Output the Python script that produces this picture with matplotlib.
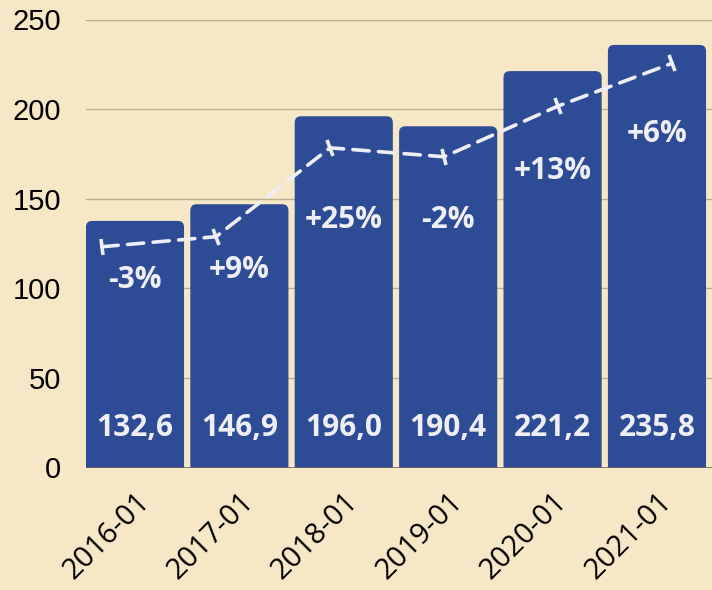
import numpy as np
import matplotlib
matplotlib.use("Agg")
import matplotlib.pyplot as plt
from matplotlib.patches import FancyBboxPatch
from matplotlib.markers import MarkerStyle
from matplotlib.transforms import Affine2D, ScaledTranslation

categories = ["2016-01", "2017-01", "2018-01", "2019-01", "2020-01", "2021-01"]
bar_values = [137.6, 146.9, 196.0, 190.4, 221.2, 235.8]
value_labels = ["132,6", "146,9", "196,0", "190,4", "221,2", "235,8"]
trend_values = [123.2, 128.8, 178.4, 173.4, 201.7, 225.6]
pct_labels = ["-3%", "+9%", "+25%", "-2%", "+13%", "+6%"]
pct_label_y = [104.6, 110.2, 138.1, 138.1, 165.5, 186.1]
yticks = [0, 50, 100, 150, 200, 250]

BG = "#f6e7c6"
BAR = "#2e4c96"
WHITE = "#eeeef4"
GRID = "#bdae91"

fig = plt.figure(figsize=(7.12, 5.90), dpi=100, facecolor=BG)
ax = fig.add_axes([86/712, (590-467.5)/590, 1-86/712, (467.5-19.5)/590])
ax.set_facecolor(BG)

x = np.arange(len(categories))
ax.set_xlim(-0.469, 5.527)
ax.set_ylim(0, 250)

ax.set_yticks(yticks)
ax.yaxis.grid(True, color=GRID, linewidth=1.0, zorder=0)
ax.set_axisbelow(True)

width = 0.94
for xi, v in zip(x, bar_values):
    ax.add_patch(FancyBboxPatch((xi - width/2, -10), width, v + 10,
                                boxstyle="round,pad=0,rounding_size=0.06",
                                mutation_aspect=250/448*104.4,
                                facecolor=BAR, edgecolor="none", zorder=2,
                                clip_on=True))

ax.axhline(0, color="#6f6a60", linewidth=1.2, zorder=3)

for xi, lbl in zip(x, value_labels):
    ax.text(xi, 22, lbl, ha="center", va="center", color=WHITE,
            fontsize=21.5, fontweight="bold", family="Open Sans", zorder=5)

for xi, lbl, yy in zip(x, pct_labels, pct_label_y):
    ax.text(xi, yy, lbl, ha="center", va="center", color=WHITE,
            fontsize=21.5, fontweight="bold", family="Open Sans", zorder=5)

# trend line
x_line = np.linspace(-0.316, 5.145, len(trend_values))
ax.plot(x_line, trend_values, color=WHITE, linewidth=2.6,
        dashes=(4.5, 2.6), dash_capstyle="round", zorder=4)
fig.canvas.draw()
pts = ax.transData.transform(np.column_stack([x_line, trend_values]))
n = len(pts)
for i in range(n):
    a = pts[max(i-1, 0)]
    b = pts[min(i+1, n-1)]
    ang = np.degrees(np.arctan2(b[1]-a[1], b[0]-a[0]))
    m = MarkerStyle("|", transform=Affine2D().rotate_deg(ang))
    ax.plot([x_line[i]], [trend_values[i]], marker=m, markersize=12,
            markeredgewidth=2.6, color=WHITE, linestyle="none", zorder=4)

ax.set_xticks(x)
ax.set_xticklabels(categories, rotation=45, ha="right", rotation_mode="anchor",
                   fontsize=21, family="Open Sans")
shift = ScaledTranslation(9/100, 0, fig.dpi_scale_trans)
for lab in ax.get_xticklabels():
    lab.set_transform(lab.get_transform() + shift)
ax.set_yticklabels([str(t) for t in yticks], fontsize=21, family="Liberation Sans")
ax.tick_params(axis="both", length=0, colors="black")
ax.tick_params(axis="y", pad=18)
ax.tick_params(axis="x", pad=14)
for s in ax.spines.values():
    s.set_visible(False)

fig.savefig("out.png", dpi=100, facecolor=BG)
